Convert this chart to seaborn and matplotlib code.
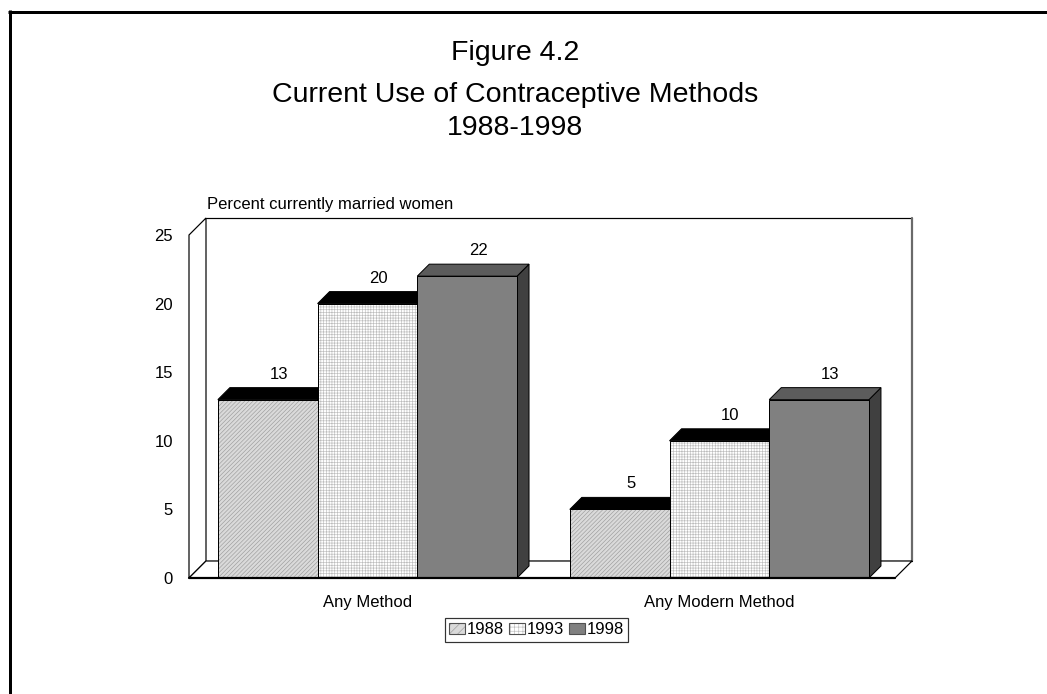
import numpy as np
import pandas as pd
import seaborn as sns
import matplotlib
matplotlib.use("Agg")
import matplotlib.pyplot as plt
from matplotlib.patches import Rectangle, Polygon, Patch
from matplotlib.lines import Line2D
from matplotlib.legend_handler import HandlerTuple

# ---- data ----
categories = ["Any Method", "Any Modern Method"]
years = ["1988", "1993", "1998"]
v1988 = [13, 5]
v1993 = [20, 10]
v1998 = [22, 13]
yticks = [0, 5, 10, 15, 20, 25]
title_lines = ["Figure 4.2", "Current Use of Contraceptive Methods", "1988-1998"]
ylabel = "Percent currently married women"

df = pd.DataFrame({
    "method": categories * 3,
    "year": [years[0]] * 2 + [years[1]] * 2 + [years[2]] * 2,
    "value": v1988 + v1993 + v1998,
})

sns.set_style("white")
plt.rcParams["font.family"] = ["Liberation Sans", "DejaVu Sans"]
plt.rcParams["hatch.linewidth"] = 0.45
plt.rcParams["text.color"] = "black"
plt.rcParams["xtick.color"] = "black"
plt.rcParams["ytick.color"] = "black"
plt.rcParams["xtick.labelcolor"] = "black"
plt.rcParams["ytick.labelcolor"] = "black"

W, H = 1047, 694
fig = plt.figure(figsize=(W / 100, H / 100), dpi=100)
PX = 0.72  # points per pixel
SMALL = 12

# axes front plane: left 189, right 895, bottom 578 (y=0), top 235 (y=25)
L, R, B, T = 189, 895, 578, 235
ax = fig.add_axes([L / W, (H - B) / H, (R - L) / W, (B - T) / H])

front_col = {"1988": "#dadada", "1993": "#ffffff", "1998": "#808080"}
hatch_col = {"1988": "#9c9c9c", "1993": "#bdbdbd", "1998": None}
hatch_pat = {"1988": "////////", "1993": "++++++", "1998": None}
top_col = {"1988": "#000000", "1993": "#000000", "1998": "#5c5c5c"}
side_col = {"1988": "#202020", "1993": "#202020", "1998": "#404040"}

sns.barplot(data=df, x="method", y="value", hue="year", order=categories,
            hue_order=years, palette=[front_col[y] for y in years],
            saturation=1, width=0.85, edgecolor="black", linewidth=PX,
            legend=False, ax=ax)

ax.set_xlim(-0.507, 1.499)
ax.set_ylim(0, 25)
for s in ax.spines.values():
    s.set_visible(False)
ax.set_xlabel("")
ax.set_ylabel("")
ax.set_yticks(yticks)
ax.set_yticklabels([str(t) for t in yticks])
ax.tick_params(axis="y", length=0, pad=11.5, labelsize=SMALL, labelcolor="black")
ax.tick_params(axis="x", length=0, pad=12.5, labelsize=SMALL, labelcolor="black")
ax.grid(False)


def off(dxp, dyp):
    inv = ax.transData.inverted()
    x0, y0 = inv.transform((0, 0))
    x1, y1 = inv.transform((dxp, dyp))
    return x1 - x0, y1 - y0


# ---- 3D frame ----
wdx, wdy = off(17, 17)
x0, x1 = ax.get_xlim()
y0, y1 = ax.get_ylim()
# back wall
ax.add_patch(Rectangle((x0 + wdx, y0 + wdy), x1 - x0, y1 - y0, facecolor="white",
                       edgecolor="none", zorder=0.5, clip_on=False))
ax.add_line(Line2D([x0 + wdx, x1 + wdx], [y1 + wdy, y1 + wdy], color="black",
                   lw=1.2 * PX, zorder=0.8, clip_on=False))
ax.add_line(Line2D([x1 + wdx, x1 + wdx], [y0 + wdy, y1 + wdy], color="#6a6a6a",
                   lw=2.2 * PX, zorder=0.8, clip_on=False))
ax.add_line(Line2D([x0 + wdx, x1 + wdx], [y0 + wdy, y0 + wdy], color="black",
                   lw=1.2 * PX, zorder=0.8, clip_on=False))
# left side wall
ax.add_patch(Polygon([(x0, y0), (x0, y1), (x0 + wdx, y1 + wdy), (x0 + wdx, y0 + wdy)],
                     closed=True, facecolor="white", edgecolor="black",
                     lw=1.2 * PX, zorder=0.9, clip_on=False))
# floor
ax.add_patch(Polygon([(x0, y0), (x1, y0), (x1 + wdx, y0 + wdy), (x0 + wdx, y0 + wdy)],
                     closed=True, facecolor="white", edgecolor="black",
                     lw=1.2 * PX, zorder=0.9, clip_on=False))
ax.add_line(Line2D([x0, x1], [y0, y0], color="black", lw=2.2 * PX, zorder=50,
                   clip_on=False))

# ---- 3D bars ----
bdx, bdy = off(12, 12)
bars = sorted([p for p in ax.patches if isinstance(p, Rectangle) and p.get_width() < 0.5
               and p.get_height() > 0], key=lambda p: p.get_x())
values_by_year = {"1988": v1988, "1993": v1993, "1998": v1998}
for i, p in enumerate(bars):
    yr = years[i % 3]
    gi = i // 3
    val = values_by_year[yr][gi]
    x, w, h = p.get_x(), p.get_width(), p.get_height()
    z = 10 + i
    p.set_zorder(z + 0.5)
    if hatch_pat[yr]:
        ax.add_patch(Rectangle((x, 0), w, h, fill=False, hatch=hatch_pat[yr],
                               edgecolor=hatch_col[yr], lw=0, zorder=z + 0.6))
        ax.add_patch(Rectangle((x, 0), w, h, fill=False, edgecolor="black",
                               lw=PX, zorder=z + 0.7))
    ax.add_patch(Polygon([(x + w, 0), (x + w + bdx, bdy), (x + w + bdx, h + bdy), (x + w, h)],
                         closed=True, facecolor=side_col[yr], edgecolor="black",
                         lw=PX, zorder=z + 0.2))
    ax.add_patch(Polygon([(x, h), (x + w, h), (x + w + bdx, h + bdy), (x + bdx, h + bdy)],
                         closed=True, facecolor=top_col[yr], edgecolor="black",
                         lw=PX, zorder=z + 0.3))
    ax.annotate(str(val), xy=(x + w / 2, h), xytext=(8, 13),
                textcoords="offset points", ha="center", va="bottom",
                fontsize=SMALL, color="black", zorder=30)

# ---- titles & labels ----
fig.text(515 / W, 1 - 60 / H, title_lines[0], ha="center", va="baseline", fontsize=20.5, color="black")
fig.text(515 / W, 1 - 101.7 / H, title_lines[1], ha="center", va="baseline", fontsize=20.5, color="black")
fig.text(515 / W, 1 - 135 / H, title_lines[2], ha="center", va="baseline", fontsize=20.5, color="black")
fig.text(207 / W, 1 - 205 / H, ylabel, ha="left", va="center", fontsize=SMALL, color="black")

# ---- legend ----
handles = []
for yr in years:
    parts = [Patch(facecolor=front_col[yr], edgecolor="none", lw=0)]
    if hatch_pat[yr]:
        parts.append(Patch(fill=False, hatch=hatch_pat[yr][:4], edgecolor=hatch_col[yr], lw=0))
    parts.append(Patch(fill=False, edgecolor="#505050", lw=0.8))
    handles.append(tuple(parts))
leg = fig.legend(handles, years, loc="center", bbox_to_anchor=(536.5 / W, 1 - 630 / H),
                 ncol=3, fontsize=SMALL, frameon=True, fancybox=False, shadow=False,
                 handlelength=0.95, handleheight=0.6, handletextpad=0.1,
                 columnspacing=0.3, borderpad=0.25, borderaxespad=0,
                 handler_map={tuple: HandlerTuple(ndivide=1, pad=0)})
leg.get_frame().set_edgecolor("black")
leg.get_frame().set_linewidth(PX * 1.2)
for t in leg.get_texts():
    t.set_color("black")

# ---- outer frame ----
fig.add_artist(Line2D([8 / W, 1.0], [1 - 11.5 / H, 1 - 11.5 / H], color="black",
                      lw=3 * PX, transform=fig.transFigure, solid_capstyle="butt"))
fig.add_artist(Line2D([9.5 / W, 9.5 / W], [1 - 10 / H, 0], color="black",
                      lw=3 * PX, transform=fig.transFigure, solid_capstyle="butt"))

fig.savefig("out.png", dpi=100, facecolor="white")
